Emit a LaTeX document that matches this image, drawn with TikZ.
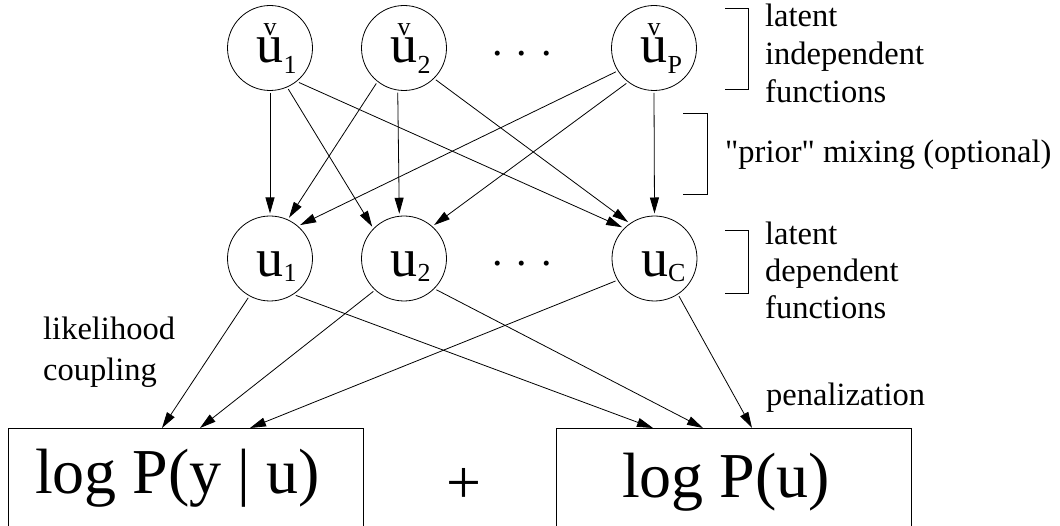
\documentclass[tikz,border=0pt]{standalone}
\usepackage{fontspec}
\setmainfont{Liberation Serif}
\usetikzlibrary{arrows.meta}
\newcommand{\usub}[2]{u\rlap{\raisebox{-#2}{\fontsize{26}{26}\selectfont #1}}}
\newcommand{\vusub}[2]{\rlap{\makebox[0.5em]{\raisebox{27pt}{\fontsize{26}{26}\selectfont v}}}\usub{#1}{#2}}
\begin{document}
\begin{tikzpicture}[x=1pt,y=-1pt,
  circ/.style={circle, draw, line width=0.8pt, minimum size=85pt, inner sep=0pt, outer sep=2.5pt,
    font=\fontsize{54}{54}\selectfont, text depth=0pt},
  topc/.style={circ, text height=30pt},
  midc/.style={circ, text height=36pt},
  arr/.style={line width=0.8pt, -{Triangle[length=16pt,width=9pt]}},
  lab/.style={font=\fontsize{32.5}{32.5}\selectfont, inner sep=0pt, anchor=base west},
  bigbox/.style={draw, line width=0.8pt, minimum width=355pt, minimum height=150pt,
    anchor=north west, inner sep=0pt},
  bigtxt/.style={font=\fontsize{64}{64}\selectfont, inner sep=0pt, anchor=base},
  dots/.style={font=\fontsize{42}{42}\selectfont, inner sep=0pt, anchor=base},
  brk/.style={line width=0.8pt}
]
\useasboundingbox (0,0) rectangle (1060,526);
\clip (0,0) rectangle (1060,526);

% top row
\node[topc] (vu1) at (270,48) {\vusub{1}{11pt}};
\node[topc] (vu2) at (404,48) {\vusub{2}{11pt}};
\node[topc] (vuP) at (654,48) {\vusub{P}{11pt}};
\node[dots] (dtop) at (522,56) {.\hspace{14pt}.\hspace{14pt}.};

% middle row
\node[midc] (u1) at (270,258.5) {\usub{1}{5pt}};
\node[midc] (u2) at (404,258.5) {\usub{2}{5pt}};
\node[midc] (uC) at (654.5,258.5) {\usub{C}{5pt}};
\node[dots] (dmid) at (522,266) {.\hspace{14pt}.\hspace{14pt}.};

% boxes
\node[bigbox] (b1) at (8,428) {};
\node[bigbox] (b2) at (556,428) {};
\node[bigtxt] (t1) at (177.5,493) {log P(y | u)};
\node[bigtxt] (t2) at (726,497) {log P(u)};
\node[font=\fontsize{62}{62}\selectfont, inner sep=0pt, anchor=base] (plus) at (464,503) {+};

% prior mixing arrows
\draw[arr] (vu1.-90) -- (u1.90);
\draw[arr] (vu1.-66) -- (u2.135);
\draw[arr] (vu1.-50) -- (uC.136);
\draw[arr] (vu2.-128) -- (u1.65);
\draw[arr] (vu2.-98) -- (u2.96.5);
\draw[arr] (vu2.-45) -- (uC.126);
\draw[arr] (vuP.-148.6) -- (u1.48);
\draw[arr] (vuP.-128) -- (u2.48);
\draw[arr] (vuP.-90) -- (uC.90);

% likelihood / penalization arrows
\draw[arr] (u1.-119) -- ([xshift=154pt]b1.north west);
\draw[arr] (u2.-133.6) -- ([xshift=192pt]b1.north west);
\draw[arr] (uC.-150.5) -- ([xshift=242pt]b1.north west);
\draw[arr] (u1.-55) -- ([xshift=97pt]b2.north west);
\draw[arr] (u2.-44.5) -- ([xshift=147pt]b2.north west);
\draw[arr] (uC.-57) -- ([xshift=196pt]b2.north west);

% brackets
\draw[brk] (725,8) -- (748,8) -- (748,89) -- (725,89);
\draw[brk] (683,113) -- (707,113) -- (707,194) -- (683,194);
\draw[brk] (725,230) -- (748,230) -- (748,293) -- (725,293);

% labels
\node[lab] (la1) at (765,27) {latent};
\node[lab] (la2) at (765,65) {independent};
\node[lab] (la3) at (765,103) {functions};
\node[lab] (pm) at (725,163) {\textquotedbl prior\textquotedbl\ mixing (optional)};
\node[lab] (lb1) at (765,245) {latent};
\node[lab] (lb2) at (765,282) {dependent};
\node[lab] (lb3) at (765,319) {functions};
\node[lab] (lc1) at (43,340) {likelihood};
\node[lab] (lc2) at (43,381) {coupling};
\node[lab] (pen) at (766,405) {penalization};
\end{tikzpicture}
\end{document}
